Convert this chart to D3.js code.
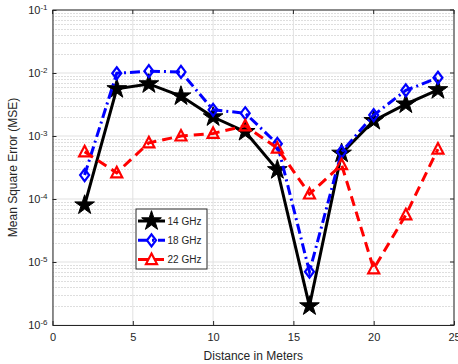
<!DOCTYPE html>
<html>
<head>
<meta charset="utf-8">
<script src="https://cdn.jsdelivr.net/npm/d3@7"></script>
<style>
  body { margin: 0; background: #fff; }
  text { font-family: "Liberation Sans", Arial, sans-serif; fill: #262626; }
</style>
</head>
<body>
<div id="chart"></div>
<script>
var distance = [2, 4, 6, 8, 10, 12, 14, 16, 18, 20, 22, 24];
var mse14 = [8.0e-5, 5.6e-3, 6.7e-3, 4.3e-3, 2.0e-3, 1.17e-3, 2.9e-4, 2.0e-6, 5.3e-4, 1.75e-3, 3.2e-3, 5.4e-3];
var mse18 = [2.4e-4, 9.9e-3, 1.07e-2, 1.04e-2, 2.6e-3, 2.3e-3, 7.5e-4, 7.0e-6, 5.6e-4, 2.15e-3, 5.3e-3, 8.4e-3];
var mse22 = [5.6e-4, 2.6e-4, 7.8e-4, 1.0e-3, 1.1e-3, 1.45e-3, 6.4e-4, 1.2e-4, 3.5e-4, 7.8e-6, 5.6e-5, 6.2e-4];
var seriesNames = ["14 GHz", "18 GHz", "22 GHz"];
var xTicks = [0, 5, 10, 15, 20, 25];
var yExponents = [-6, -5, -4, -3, -2, -1];

var width = 458, height = 364;
var margin = {top: 10, right: 4, bottom: 39, left: 52.5};

var svg = d3.select("#chart").append("svg")
  .attr("width", width)
  .attr("height", height);

var x = d3.scaleLinear().domain([0, 25]).range([margin.left, width - margin.right]);
var y = d3.scaleLog().domain([1e-6, 1e-1]).range([height - margin.bottom, margin.top]);

var x0 = x.range()[0], x1 = x.range()[1], y0 = y.range()[0], y1 = y.range()[1];

// minor grid (dotted)
var minor = [];
yExponents.forEach(function(e) {
  if (e === -1) return;
  for (var k = 2; k <= 9; k++) minor.push(k * Math.pow(10, e));
});
svg.append("g").selectAll("line").data(minor).enter().append("line")
  .attr("x1", x0).attr("x2", x1)
  .attr("y1", function(d) { return Math.round(y(d)) + 0.5; })
  .attr("y2", function(d) { return Math.round(y(d)) + 0.5; })
  .attr("stroke", "#bdbdbd")
  .attr("stroke-width", 1)
  .attr("stroke-dasharray", "1,2");

// major grid
svg.append("g").selectAll("line").data(yExponents).enter().append("line")
  .attr("x1", x0).attr("x2", x1)
  .attr("y1", function(d) { return y(Math.pow(10, d)); })
  .attr("y2", function(d) { return y(Math.pow(10, d)); })
  .attr("stroke", "#e1e1e1").attr("stroke-width", 1);
svg.append("g").selectAll("line").data(xTicks).enter().append("line")
  .attr("x1", function(d) { return x(d); }).attr("x2", function(d) { return x(d); })
  .attr("y1", y0).attr("y2", y1)
  .attr("stroke", "#e1e1e1").attr("stroke-width", 1);

// axes
var xAxis = d3.axisBottom(x).tickValues(xTicks).tickSizeInner(-4).tickSizeOuter(0).tickPadding(8);
var gx = svg.append("g").attr("transform", "translate(0," + y0 + ")").call(xAxis);
gx.selectAll("text").attr("font-size", "11px").attr("fill", "#262626");
gx.selectAll("line, path").attr("stroke", "#262626");

var yAxis = d3.axisLeft(y).tickValues(yExponents.map(function(e) { return Math.pow(10, e); }))
  .tickSizeInner(-4).tickSizeOuter(0).tickPadding(6).tickFormat("");
var gy = svg.append("g").attr("transform", "translate(" + x0 + ",0)").call(yAxis);
gy.selectAll("line, path").attr("stroke", "#262626");
gy.selectAll(".tick").append("text")
  .attr("x", -5).attr("dy", "0.35em")
  .attr("text-anchor", "end")
  .attr("font-size", "11px")
  .each(function(d) {
    var t = d3.select(this);
    t.append("tspan").text("10");
    t.append("tspan").attr("dy", "-0.5em").attr("font-size", "8px")
      .text("-" + Math.round(-Math.log10(d)));
  });

// top and right box with ticks
svg.append("line").attr("x1", x0).attr("x2", x1).attr("y1", y1).attr("y2", y1).attr("stroke", "#262626");
svg.append("line").attr("x1", x1).attr("x2", x1).attr("y1", y0).attr("y2", y1).attr("stroke", "#262626");
svg.append("g").selectAll("line").data(xTicks).enter().append("line")
  .attr("x1", function(d) { return x(d); }).attr("x2", function(d) { return x(d); })
  .attr("y1", y1).attr("y2", y1 + 4).attr("stroke", "#262626");
svg.append("g").selectAll("line").data(yExponents).enter().append("line")
  .attr("x1", x1).attr("x2", x1 - 4)
  .attr("y1", function(d) { return y(Math.pow(10, d)); })
  .attr("y2", function(d) { return y(Math.pow(10, d)); })
  .attr("stroke", "#262626");

// labels
svg.append("text")
  .attr("x", (x0 + x1) / 2).attr("y", height - 4)
  .attr("text-anchor", "middle").attr("font-size", "12px")
  .text("Distance in Meters");
svg.append("text")
  .attr("transform", "translate(17," + ((y0 + y1) / 2) + ") rotate(-90)")
  .attr("text-anchor", "middle").attr("font-size", "12px")
  .text("Mean Square Error (MSE)");

var line = d3.line()
  .x(function(d) { return x(d[0]); })
  .y(function(d) { return y(d[1]); });

var series = [
  {vals: mse14, color: "#000000", dash: null, marker: "star"},
  {vals: mse18, color: "#0000ff", dash: "10,4,2,4", marker: "diamond"},
  {vals: mse22, color: "#ff0000", dash: "10,6", marker: "triangle"}
];

function drawMarker(g, type, color) {
  if (type === "star") {
    g.append("path").attr("d", d3.symbol().type(d3.symbolStar).size(120)())
      .attr("fill", color).attr("stroke", color).attr("stroke-width", 1);
  } else if (type === "diamond") {
    g.append("path").attr("d", "M0,-6L4.5,0L0,6L-4.5,0Z")
      .attr("fill", "none").attr("stroke", color).attr("stroke-width", 2.2);
  } else {
    g.append("path").attr("d", "M0,-6L5.5,4.5L-5.5,4.5Z")
      .attr("fill", "none").attr("stroke", color).attr("stroke-width", 2.2);
  }
}

series.forEach(function(s) {
  var pts = distance.map(function(d, i) { return [d, s.vals[i]]; });
  svg.append("path").datum(pts)
    .attr("d", line)
    .attr("fill", "none")
    .attr("stroke", s.color)
    .attr("stroke-width", 3)
    .attr("stroke-dasharray", s.dash);
  pts.forEach(function(p) {
    var g = svg.append("g").attr("transform", "translate(" + x(p[0]) + "," + y(p[1]) + ")");
    drawMarker(g, s.marker, s.color);
  });
});

// legend
var leg = svg.append("g").attr("transform", "translate(136,209)");
leg.append("rect").attr("x", 0).attr("y", 0).attr("width", 71).attr("height", 60)
  .attr("fill", "#fff").attr("stroke", "#262626").attr("stroke-width", 1);
series.forEach(function(s, i) {
  var cy = 12 + i * 19.3;
  leg.append("line").attr("x1", 2).attr("x2", 29).attr("y1", cy).attr("y2", cy)
    .attr("stroke", s.color).attr("stroke-width", 3).attr("stroke-dasharray", s.dash);
  var g = leg.append("g").attr("transform", "translate(15.5," + cy + ")");
  drawMarker(g, s.marker, s.color);
  leg.append("text").attr("x", 31.5).attr("y", cy).attr("dy", "0.35em")
    .attr("font-size", "10px").text(seriesNames[i]);
});
</script>
</body>
</html>
